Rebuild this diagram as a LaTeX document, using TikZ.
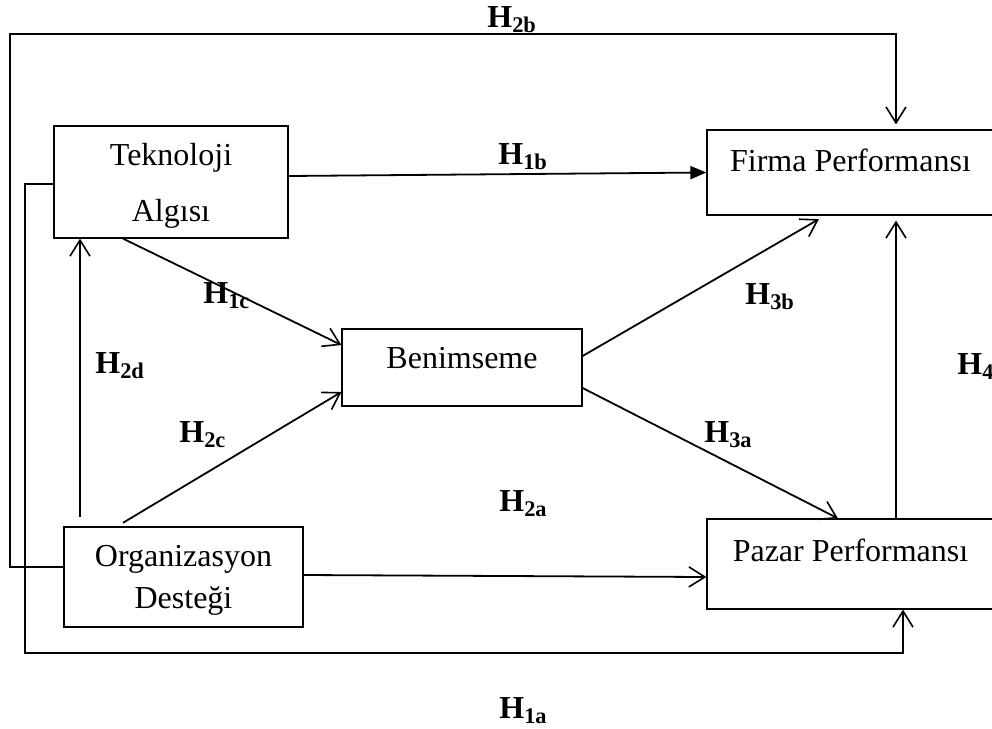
\documentclass[tikz,border=0pt]{standalone}
\usepackage{fontspec}
\setmainfont{Liberation Serif}
\usetikzlibrary{arrows.meta,positioning}

\begin{document}
\begin{tikzpicture}[
x=0.5pt, y=-0.5pt,
font=\fontsize{16pt}{19pt}\selectfont,
construct/.style={draw, line width=0.6pt, rectangle, inner sep=0pt},
hyp/.style={-{Straight Barb[length=8pt,width=10pt,line width=0.8pt]}, line width=0.9pt},
hypfill/.style={-{Triangle[length=8pt,width=6.5pt]}, line width=0.9pt},
hlabel/.style={anchor=base west, inner sep=0pt, font=\fontsize{16pt}{19pt}\selectfont\bfseries}
]
    \useasboundingbox (0,0) rectangle (992,729);

    % Constructs
    \node[construct, align=center, text depth=0pt, minimum width=117pt, minimum height=56pt] (tek) at (171,182) {Teknoloji\\[9pt]Algısı};
    \node[construct, align=center, text depth=0pt, minimum width=119.5pt, minimum height=50pt] (org) at (183.5,577) {Organizasyon\\[2pt]Desteği};
    \node[construct, minimum width=120pt, minimum height=38.5pt, text depth=9.5pt] (ben) at (462,367.5) {Benimseme};
    \node[construct, minimum width=143.5pt, minimum height=42.5pt, text depth=12.5pt] (firma) at (850.5,172.5) {Firma Performansı};
    \node[construct, minimum width=143.5pt, minimum height=45pt, text depth=14pt] (pazar) at (850.5,564) {Pazar Performansı};

    \draw
    (10,34) coordinate (topL)
    (896,34) coordinate (topR)
    (25,653) coordinate (botL)
    (903,653) coordinate (botR);
    \coordinate (h2dS) at ([xshift=-51.75pt]org.north);

    % Outer paths
    \draw[hyp, shorten >=2.5pt] ([yshift=5pt]org.west) -| (topL) -- (topR) -- (topR |- firma.north);
    \draw[hyp] ([yshift=-1pt]tek.west) -| (botL) -- (botR) -- (botR |- pazar.south);

    % Direct paths
    \draw[hypfill] ([yshift=3pt]tek.east) -- (firma.west);
    \draw[hyp] ([xshift=-24pt]tek.south) -- ([yshift=11.25pt]ben.west);
    \draw[hyp, shorten <=4.5pt] (h2dS) -- (h2dS |- tek.south);
    \draw[hyp, shorten <=3.5pt] ([xshift=-33.25pt]org.north) -- ([yshift=-12.25pt]ben.west);
    \draw[hyp, shorten >=3.5pt] ([yshift=5.75pt]ben.east) -- ([xshift=-12.75pt]firma.south);
    \draw[hyp] ([yshift=-10.25pt]ben.east) -- ([xshift=-6.25pt]pazar.north);
    \draw[hyp] ([yshift=1pt]org.east) -- ([yshift=-6.5pt]pazar.west);
    \draw[hyp, shorten >=2.5pt] ([xshift=22.75pt]pazar.north) -- ([xshift=22.75pt]firma.south);

    % Hypothesis labels
    \node[hlabel] (l2b) at (487,27) {H\textsubscript{2b}};
    \node[hlabel] (l1b) at (498,164) {H\textsubscript{1b}};
    \node[hlabel] (l1c) at (203,303) {H\textsubscript{1c}};
    \node[hlabel] (l2d) at (95,373) {H\textsubscript{2d}};
    \node[hlabel] (l2c) at (179,442) {H\textsubscript{2c}};
    \node[hlabel] (l3b) at (745,304) {H\textsubscript{3b}};
    \node[hlabel] (l4) at (957,374) {H\textsubscript{4}};
    \node[hlabel] (l3a) at (704,442) {H\textsubscript{3a}};
    \node[hlabel] (l2a) at (499,511) {H\textsubscript{2a}};
    \node[hlabel] (l1a) at (499,718) {H\textsubscript{1a}};

\end{tikzpicture}
\end{document}
